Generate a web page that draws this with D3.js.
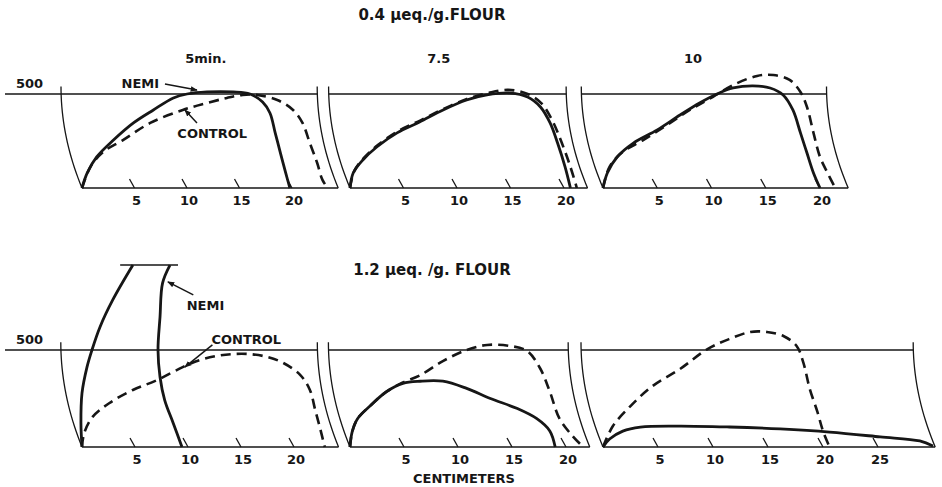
<!DOCTYPE html>
<html>
<head>
<meta charset="utf-8">
<script src="https://cdn.jsdelivr.net/npm/d3@7"></script>
<style>
  body { margin: 0; background: #fff; }
  text { font-family: "DejaVu Sans", sans-serif; font-weight: bold; fill: #161616; }
</style>
</head>
<body>
<div id="chart"></div>
<script>
// Extensograms: x = centimeters, y = Brabender units (500 line marked)

const rowTitles = ['0.4 \u03bceq./g.FLOUR', '1.2 \u03bceq. /g. FLOUR'];
const mixTimes = ['5min.', '7.5', '10'];
const ticksShort = [5, 10, 15, 20];
const ticksLong = [5, 10, 15, 20, 25];

// 0.4 ueq/g, 5 min
const nemiA5 = [[0,0],[0.5,80],[1.4,165],[3.0,255],[4.9,346],[6.8,415],[8.7,479],[10.0,500],[11.9,511],[14.4,511],[16.0,500],[17.2,457],[17.9,399],[18.4,293],[18.9,186],[19.4,80],[19.8,0]];
const controlA5 = [[0,0],[0.8,112],[2.0,191],[3.9,255],[6.5,346],[9.6,415],[11.9,452],[13.8,479],[15.3,495],[16.7,495],[18.6,468],[20.1,415],[21.0,346],[21.7,239],[22.4,133],[22.9,43],[23.4,0]];
// 0.4 ueq/g, 7.5 min
const nemiA75 = [[0,0],[0.3,80],[1.2,149],[2.5,218],[4.4,293],[6.5,351],[8.7,415],[10.9,468],[12.8,495],[15.0,505],[16.6,484],[17.8,431],[18.7,346],[19.4,239],[20.1,112],[20.6,0]];
const controlA75 = [[0,0],[0.4,90],[1.3,160],[2.6,228],[4.5,303],[6.6,360],[8.8,422],[11.0,475],[12.9,505],[14.8,522],[16.6,500],[17.9,450],[18.9,360],[19.8,239],[20.6,112],[21.2,0]];
// 0.4 ueq/g, 10 min
const nemiA10 = [[0,0],[0.4,80],[1.3,165],[2.8,239],[5.0,309],[7.1,388],[8.9,452],[10.5,500],[12.0,532],[13.8,543],[15.4,532],[16.6,495],[17.5,415],[18.2,293],[18.8,186],[19.4,80],[20.0,0]];
const controlA10 = [[0,0],[0.6,112],[1.8,191],[3.7,255],[5.9,335],[8.0,415],[10.1,484],[12.0,548],[14.2,596],[15.7,601],[17.2,575],[18.2,511],[18.8,431],[19.4,293],[20.0,165],[20.7,80],[21.4,0]];

// 1.2 ueq/g, 5 min (NEMI runs off scale: rising side, falling side, cap)
const nemiB5Up = [[0,0],[-0.1,124],[0,278],[0.47,412],[0.94,500],[1.7,619],[2.9,758],[4.8,938]];
const nemiB5Down = [[8.3,938],[7.6,845],[7.36,670],[7.17,500],[7.36,361],[7.8,242],[8.6,124],[9.43,0]];
const nemiB5Cap = [[3.6,938],[9.06,938]];
const controlB5 = [[0,0],[0.2,70],[1.0,155],[2.6,227],[4.8,294],[7.1,345],[9.5,412],[11.1,448],[12.7,469],[14.2,479],[15.8,479],[17.5,464],[19.0,433],[20.6,371],[21.5,294],[22.0,191],[22.5,88],[22.9,0]];
// 1.2 ueq/g, 7.5 min
const nemiB75 = [[0,0],[0.2,78],[0.7,146],[1.9,214],[3.4,286],[4.9,328],[6.5,339],[8.6,339],[10.8,302],[13.0,250],[15.5,198],[17.3,146],[18.5,83],[19.0,0]];
const controlB75 = [[0,0],[0.2,78],[0.7,146],[1.9,214],[3.4,286],[4.9,333],[6.5,370],[8.6,443],[10.8,500],[12.7,526],[14.8,521],[16.4,495],[17.6,406],[18.5,286],[19.4,146],[20.6,57],[21.6,0]];
// 1.2 ueq/g, 10 min
const nemiB10 = [[0,0],[0.6,41],[1.8,82],[3.4,103],[7.0,108],[11.5,103],[16.1,93],[20.6,77],[25.2,52],[28.8,31],[30.0,5]];
const controlB10 = [[0,0],[0.9,108],[2.5,211],[4.5,314],[7.0,402],[9.5,505],[11.5,557],[13.4,593],[14.9,593],[16.4,572],[17.6,521],[18.2,438],[18.8,299],[19.5,180],[20.0,82],[20.6,0]];

// chart paper right edge (cm) of each panel
const paperEndA = [24.4, 22.2, 22.6];
const paperEndB = [24.2, 22.2, 30.2];

const width = 942, height = 487;
const svg = d3.select('#chart').append('svg')
  .attr('width', width)
  .attr('height', height);

const ink = '#161616';

svg.append('defs').append('marker')
  .attr('id', 'arrow')
  .attr('viewBox', '0 0 10 10')
  .attr('refX', 9).attr('refY', 5)
  .attr('markerWidth', 7).attr('markerHeight', 7)
  .attr('markerUnits', 'userSpaceOnUse')
  .attr('orient', 'auto')
  .append('path')
  .attr('d', 'M0,1 L10,5 L0,9 Z')
  .attr('fill', ink);

const rows = [
  { base: 188, top500: 94, title: rowTitles[0], titleY: 20, labelY: 88, panels: [
    { ox: 82, k: 10.5, end: paperEndA[0], ticks: ticksShort, nemi: [nemiA5], control: controlA5, time: mixTimes[0] },
    { ox: 350, k: 10.7, end: paperEndA[1], ticks: ticksShort, nemi: [nemiA75], control: controlA75, time: mixTimes[1] },
    { ox: 603, k: 10.85, end: paperEndA[2], ticks: ticksShort, nemi: [nemiA10], control: controlA10, time: mixTimes[2] }
  ]},
  { base: 447, top500: 350, title: rowTitles[1], titleY: 275, labelY: 344, panels: [
    { ox: 82, k: 10.6, end: paperEndB[0], ticks: ticksShort, nemi: [nemiB5Up, nemiB5Down, nemiB5Cap], control: controlB5 },
    { ox: 350, k: 10.8, end: paperEndB[1], ticks: ticksShort, nemi: [nemiB75], control: controlB75 },
    { ox: 603, k: 11.0, end: paperEndB[2], ticks: ticksLong, nemi: [nemiB10], control: controlB10 }
  ]}
];

const smooth = d3.curveCatmullRom.alpha(0.5);

rows.forEach((row, ri) => {
  const y = d3.scaleLinear().domain([0, 500]).range([row.base, row.top500]);

  svg.append('text')
    .attr('x', 432).attr('y', row.titleY)
    .attr('text-anchor', 'middle')
    .style('font-size', '15px')
    .text(row.title);

  svg.append('text')
    .attr('x', 16).attr('y', row.labelY)
    .style('font-size', '13px')
    .text('500');

  row.panels.forEach((p, pi) => {
    const x = d3.scaleLinear().domain([0, 20]).range([p.ox, p.ox + 20 * p.k]);
    const g = svg.append('g');

    const line = d3.line().x(d => x(d[0])).y(d => y(d[1]));

    // curved paper edges (recorder arm arcs)
    const arc = c => d3.range(0, 1.0001, 0.05).map(t => [c - 2 * (1 - t * t), 540 * (1 - t)]);
    [0, p.end].forEach(c => {
      g.append('path')
        .attr('d', line.curve(d3.curveLinear)(arc(c)))
        .attr('fill', 'none')
        .attr('stroke', ink)
        .attr('stroke-width', 1.3);
    });

    // 500 BU line
    const edge500 = 2 * (1 - Math.pow(1 - 500 / 540, 2));
    g.append('line')
      .attr('x1', pi === 0 ? 5 : x(-edge500))
      .attr('x2', x(p.end - edge500))
      .attr('y1', y(500)).attr('y2', y(500))
      .attr('stroke', ink).attr('stroke-width', 1.3);

    // baseline
    g.append('line')
      .attr('x1', x(0)).attr('x2', x(p.end))
      .attr('y1', y(0)).attr('y2', y(0))
      .attr('stroke', ink).attr('stroke-width', 1.6);

    // slanted ticks + labels
    p.ticks.forEach(v => {
      g.append('line')
        .attr('x1', x(v) - 5).attr('y1', y(0) - 9)
        .attr('x2', x(v)).attr('y2', y(0))
        .attr('stroke', ink).attr('stroke-width', 1.3);
      g.append('text')
        .attr('x', x(v) + 2).attr('y', y(0) + 17)
        .attr('text-anchor', 'middle')
        .style('font-size', '13px')
        .text(v);
    });

    if (p.time) {
      g.append('text')
        .attr('x', x(ri === 0 && pi === 0 ? 11.8 : 8.3)).attr('y', 63)
        .attr('text-anchor', 'middle')
        .style('font-size', '13px')
        .text(p.time);
    }

    // control (dashed)
    g.append('path')
      .attr('d', line.curve(smooth)(p.control))
      .attr('fill', 'none')
      .attr('stroke', ink)
      .attr('stroke-width', 2.6)
      .attr('stroke-dasharray', '10,6');

    // NEMI (solid)
    p.nemi.forEach((s, si) => {
      g.append('path')
        .attr('d', line.curve(smooth)(s))
        .attr('fill', 'none')
        .attr('stroke', ink)
        .attr('stroke-width', si === 2 ? 1.4 : 2.8);
    });

    // labels with pointers in the first panel of each row
    if (pi === 0) {
      const notes = ri === 0
        ? [{ t: 'NEMI', at: [5.55, 532], from: [7.9, 553], to: [10.95, 521] },
           { t: 'CONTROL', at: [12.4, 266], from: [10.95, 346], to: [9.8, 415] }]
        : [{ t: 'NEMI', at: [11.65, 706], from: [10.5, 784], to: [8.1, 851] },
           { t: 'CONTROL', at: [15.5, 531], from: [12.3, 526], to: [9.7, 412] }];
      notes.forEach(n => {
        g.append('text')
          .attr('x', x(n.at[0])).attr('y', y(n.at[1]))
          .attr('text-anchor', 'middle')
          .style('font-size', '13px')
          .text(n.t);
        g.append('line')
          .attr('x1', x(n.from[0])).attr('y1', y(n.from[1]))
          .attr('x2', x(n.to[0])).attr('y2', y(n.to[1]))
          .attr('stroke', ink).attr('stroke-width', 1.5)
          .attr('marker-end', 'url(#arrow)');
      });
    }
  });
});

svg.append('text')
  .attr('x', 464).attr('y', 483)
  .attr('text-anchor', 'middle')
  .style('font-size', '13px')
  .text('CENTIMETERS');
</script>
</body>
</html>
